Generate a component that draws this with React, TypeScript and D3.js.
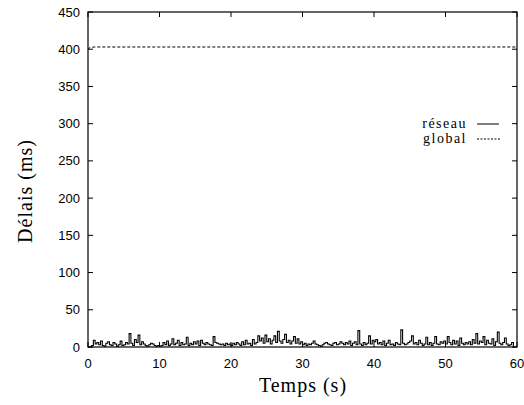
import React from "react";
import * as d3 from "d3";

const xTicks = [0, 10, 20, 30, 40, 50, 60];
const yTicks = [0, 50, 100, 150, 200, 250, 300, 350, 400, 450];
const step = 0.25;
const reseau = [
  0,0,2,9,4,6,3,8,2,1,5,7,3,2,6,4,1,3,8,2,
  3,6,4,18,5,2,10,6,16,3,7,4,2,1,3,5,4,2,1,2,
  1,2,6,3,8,2,4,11,3,5,9,2,6,3,4,13,2,5,3,7,
  4,8,2,9,5,3,6,4,3,2,14,6,5,4,3,4,2,5,3,4,
  2,5,3,6,4,2,7,3,9,4,5,2,10,4,6,15,8,12,5,16,
  7,11,4,9,15,6,21,8,5,10,17,6,9,4,8,14,5,11,4,7,
  3,5,2,4,3,5,8,4,3,2,1,3,5,6,4,3,2,5,6,3,
  4,7,5,3,6,4,8,2,5,7,3,22,4,2,6,3,5,15,4,9,
  7,10,4,6,3,8,2,5,9,3,4,2,6,4,3,23,5,3,4,6,
  8,15,4,6,3,9,5,2,4,13,3,6,2,5,14,4,3,7,5,8,
  4,14,6,3,9,4,8,2,12,5,3,6,4,7,3,10,5,18,4,8,
  6,14,3,9,5,4,11,2,7,20,5,3,6,12,4,2,3,6,0,0,
];
const globalTimes = [0, 0.3, 1, 10, 20, 30, 40, 50, 60];
const globalVals = [400, 402.5, 403, 403, 403, 403, 403, 403, 403];

export default function App() {
  const W = 524, H = 405;
  const x0 = 88, x1 = 517, y0 = 347, y1 = 12;
  const x = d3.scaleLinear().domain([0, 60]).range([x0, x1]);
  const y = d3.scaleLinear().domain([0, 450]).range([y0, y1]);
  const resPts: [number, number][] = reseau.map((v, i) => [i * step, v]);
  const resLine = d3.line<[number, number]>().x(d => x(d[0])).y(d => y(d[1])).curve(d3.curveStepAfter)(resPts) || "";
  const gPts: [number, number][] = globalTimes.map((t, i) => [t, globalVals[i]]);
  const gLine = d3.line<[number, number]>().x(d => x(d[0])).y(d => y(d[1]))(gPts) || "";
  const sans = "'Liberation Sans', Arial, sans-serif";
  const serif = "'Liberation Serif', 'Times New Roman', serif";
  const tl = 5;
  return (
    <svg width={W} height={H} style={{ position: "absolute", left: 0, top: 0, background: "#fff" }}>
      <rect x={0} y={0} width={W} height={H} fill="#fff" />
      <path d={resLine} fill="none" stroke="#000" strokeWidth={1.1} />
      <path d={gLine} fill="none" stroke="#000" strokeWidth={1} strokeDasharray="3,2" />
      <rect x={x0} y={y1} width={x1 - x0} height={y0 - y1} fill="none" stroke="#000" strokeWidth={1.2} />
      {yTicks.map(t => (
        <g key={"y" + t}>
          <line x1={x0} x2={x0 + tl} y1={y(t)} y2={y(t)} stroke="#000" />
          <line x1={x1} x2={x1 - tl} y1={y(t)} y2={y(t)} stroke="#000" />
          <text x={x0 - 8} y={y(t)} dy="0.35em" textAnchor="end" fontFamily={sans} fontSize={13}>{t}</text>
        </g>
      ))}
      {xTicks.map(t => (
        <g key={"x" + t}>
          <line x1={x(t)} x2={x(t)} y1={y0} y2={y0 - tl} stroke="#000" />
          <line x1={x(t)} x2={x(t)} y1={y1} y2={y1 + tl} stroke="#000" />
          <text x={x(t)} y={y0 + 16} dy="0.35em" textAnchor="middle" fontFamily={sans} fontSize={13}>{t}</text>
        </g>
      ))}
      <text x={303} y={392} textAnchor="middle" fontFamily={serif} fontSize={20} letterSpacing={1}>Temps (s)</text>
      <text transform={`translate(32,191) rotate(-90)`} textAnchor="middle" fontFamily={serif} fontSize={20} letterSpacing={1}>Délais (ms)</text>
      <text x={467} y={128} textAnchor="end" fontFamily={serif} fontSize={14} letterSpacing={1.5}>réseau</text>
      <line x1={477} x2={499} y1={124} y2={124} stroke="#000" />
      <text x={467} y={143} textAnchor="end" fontFamily={serif} fontSize={14} letterSpacing={1.5}>global</text>
      <line x1={477} x2={500} y1={139} y2={139} stroke="#000" strokeDasharray="2,1.5" />
    </svg>
  );
}
